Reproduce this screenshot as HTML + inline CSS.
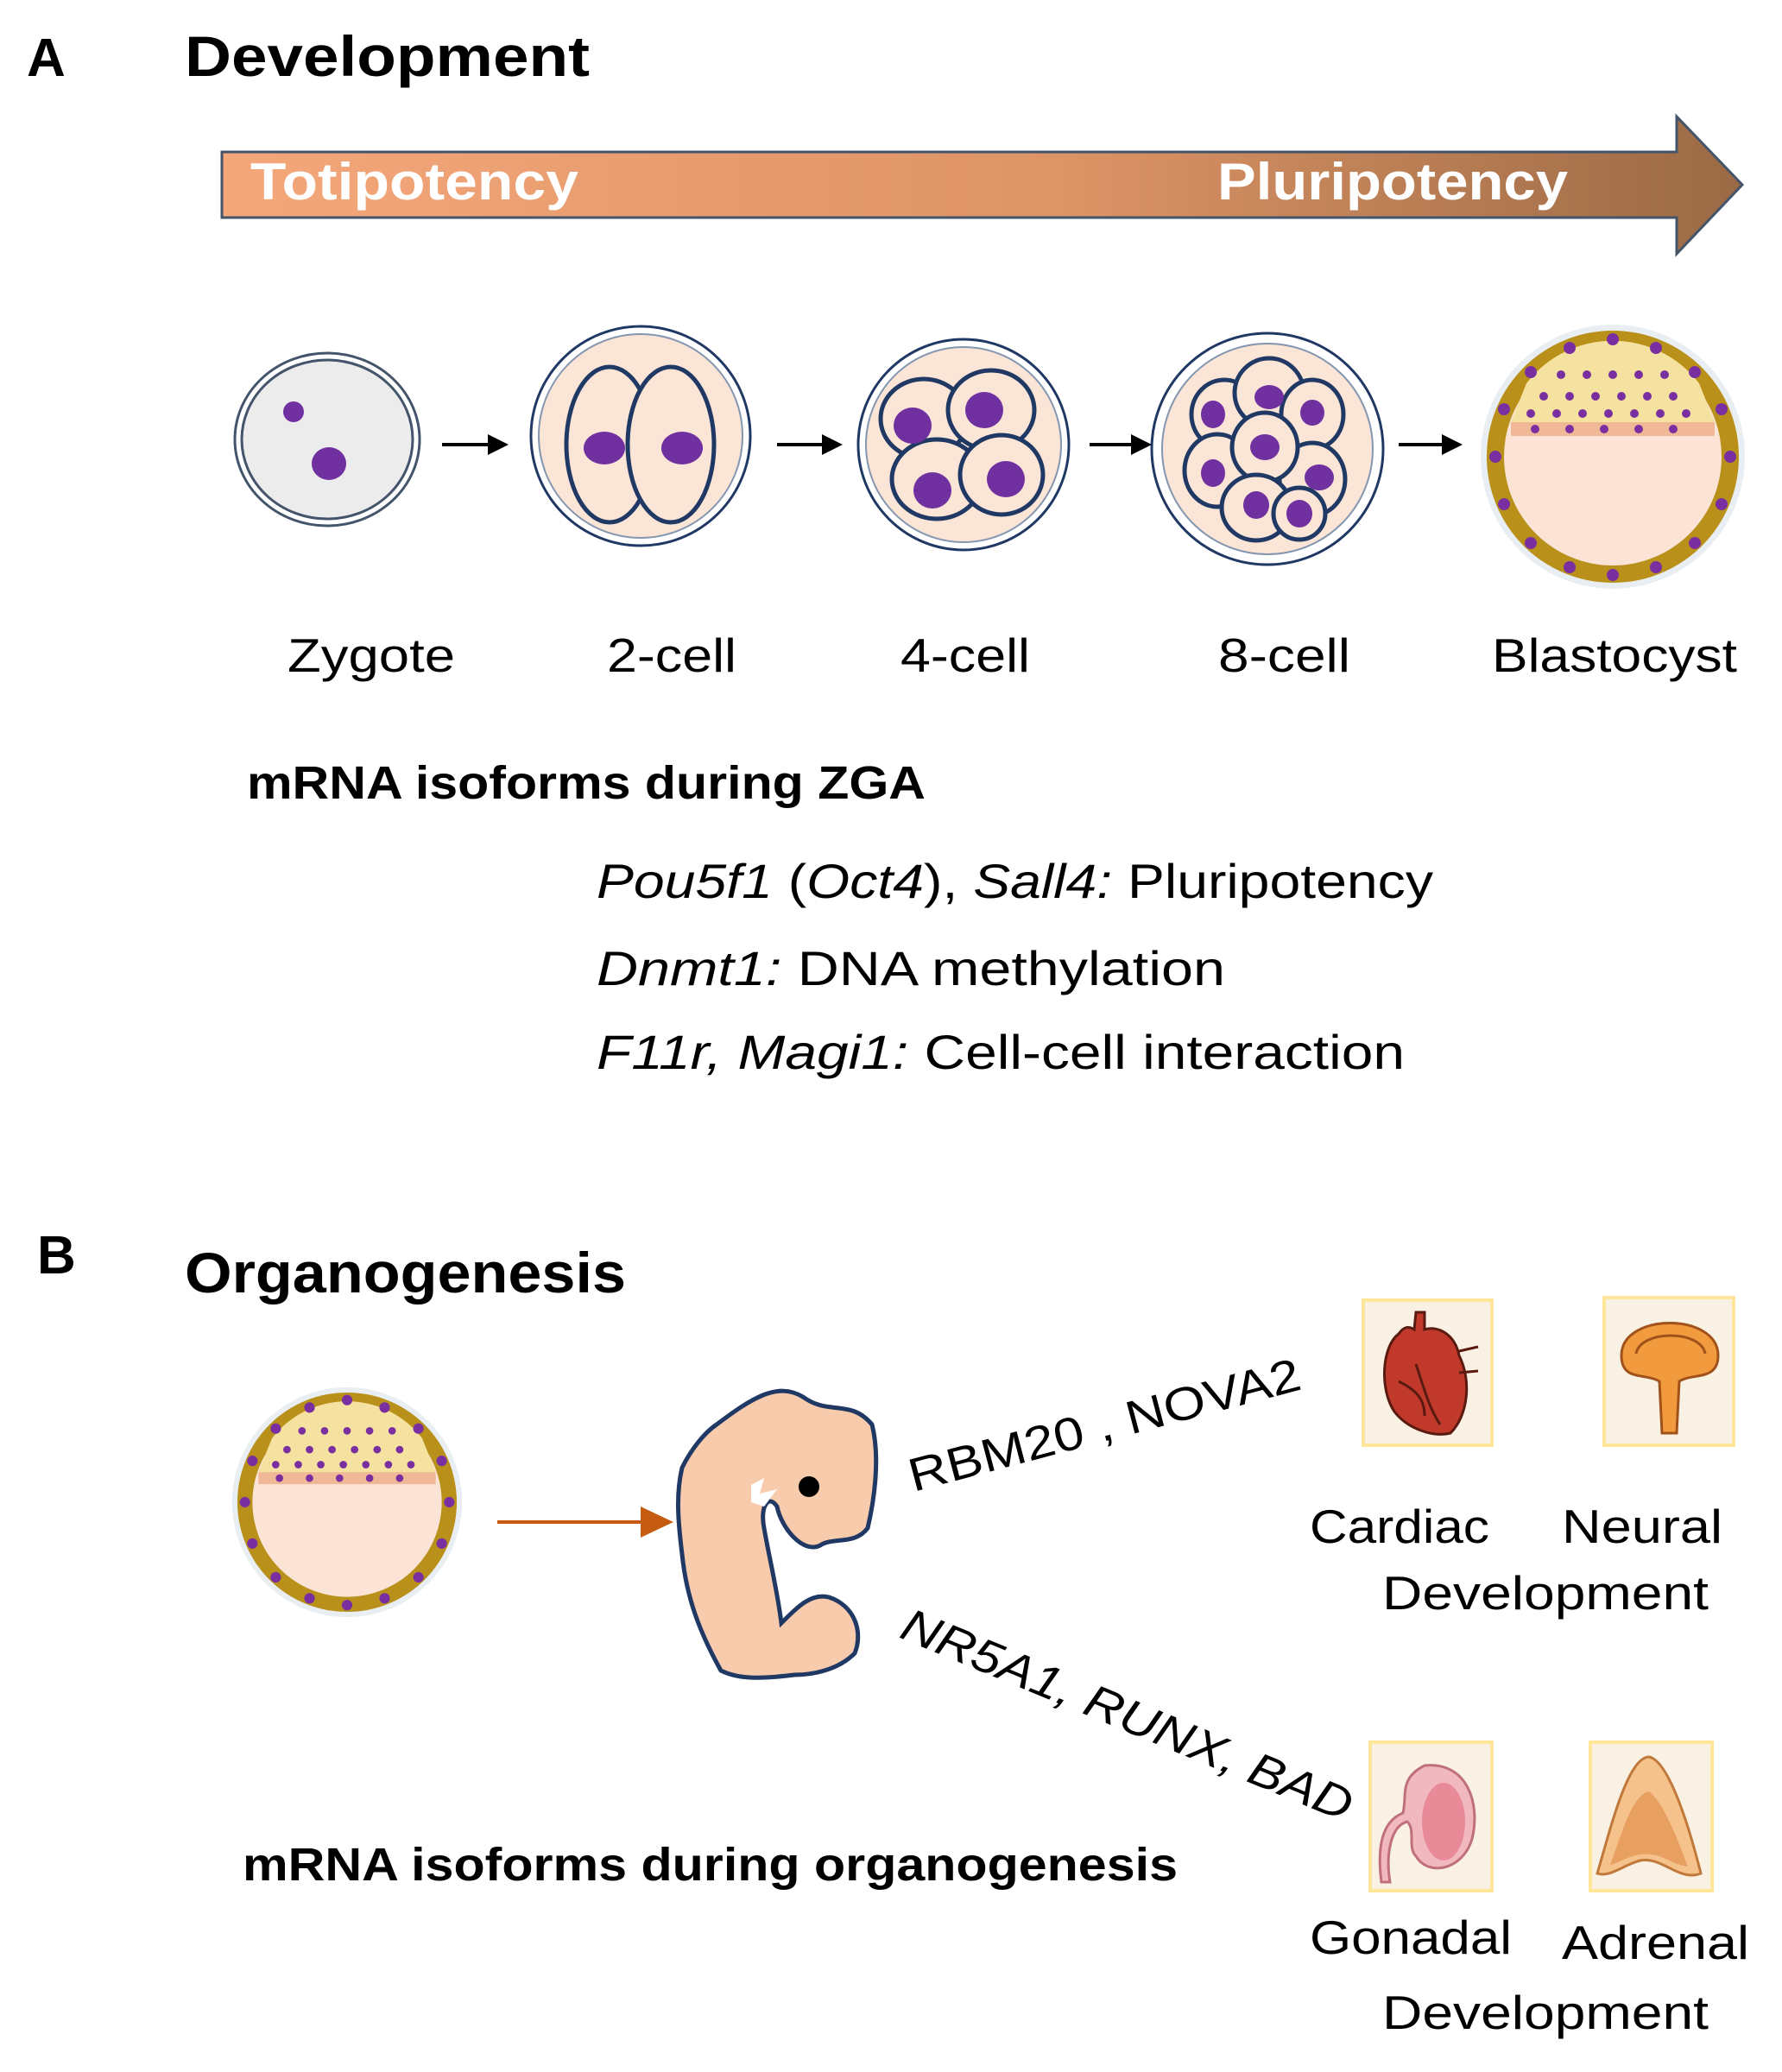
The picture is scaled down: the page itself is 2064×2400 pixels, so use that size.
<!DOCTYPE html>
<html><head><meta charset="utf-8"><style>html,body{margin:0;padding:0;background:#fff}svg{display:block}</style></head>
<body>
<svg width="2064" height="2400" viewBox="0 0 2064 2400" xmlns="http://www.w3.org/2000/svg" font-family="Liberation Sans, sans-serif">
<defs>
<linearGradient id="ag" x1="0" x2="1" y1="0" y2="0">
<stop offset="0" stop-color="#f4a77a"/><stop offset="0.55" stop-color="#dd9466"/><stop offset="1" stop-color="#9a6a45"/>
</linearGradient>
<g id="blast">
<circle r="153" fill="#e9eef2"/>
<circle r="146" fill="#b8901a"/>
<circle r="126" fill="#fbe3d6"/>
<path d="M-118,-40 L118,-40 L 100,-85 A126 126 0 0 0 -100,-85 Z" fill="#f6e2a0"/>
<rect x="-118" y="-40" width="236" height="16" fill="#f0b896"/>
<g fill="#7a2fa0">
<circle cx="-60" cy="-95" r="5"/><circle cx="-30" cy="-95" r="5"/><circle cx="0" cy="-95" r="5"/><circle cx="30" cy="-95" r="5"/><circle cx="60" cy="-95" r="5"/>
<circle cx="-80" cy="-70" r="5"/><circle cx="-50" cy="-70" r="5"/><circle cx="-20" cy="-70" r="5"/><circle cx="10" cy="-70" r="5"/><circle cx="40" cy="-70" r="5"/><circle cx="70" cy="-70" r="5"/>
<circle cx="-95" cy="-50" r="5"/><circle cx="-65" cy="-50" r="5"/><circle cx="-35" cy="-50" r="5"/><circle cx="-5" cy="-50" r="5"/><circle cx="25" cy="-50" r="5"/><circle cx="55" cy="-50" r="5"/><circle cx="85" cy="-50" r="5"/>
<circle cx="-90" cy="-32" r="5"/><circle cx="-50" cy="-32" r="5"/><circle cx="-10" cy="-32" r="5"/><circle cx="30" cy="-32" r="5"/><circle cx="70" cy="-32" r="5"/>
<circle cx="0" cy="-136" r="7"/><circle cx="-50" cy="-126" r="7"/><circle cx="50" cy="-126" r="7"/><circle cx="-95" cy="-98" r="7"/><circle cx="95" cy="-98" r="7"/>
<circle cx="-126" cy="-55" r="7"/><circle cx="126" cy="-55" r="7"/><circle cx="-136" cy="0" r="7"/><circle cx="136" cy="0" r="7"/>
<circle cx="-126" cy="55" r="7"/><circle cx="126" cy="55" r="7"/><circle cx="-95" cy="100" r="7"/><circle cx="95" cy="100" r="7"/>
<circle cx="-50" cy="128" r="7"/><circle cx="50" cy="128" r="7"/><circle cx="0" cy="137" r="7"/>
</g>
</g>
<marker id="bk" markerWidth="6" markerHeight="6" refX="5" refY="3" orient="auto"><path d="M0,0 L6,3 L0,6 Z" fill="#000"/></marker>
</defs>

<text x="31" y="88" font-size="62" font-weight="bold">A</text>
<text x="214" y="88" font-size="66" font-weight="bold" textLength="469" lengthAdjust="spacingAndGlyphs">Development</text>

<path d="M257,176 L1942,176 L1942,135 L2018,214 L1942,294 L1942,252 L257,252 Z" fill="url(#ag)" stroke="#44546a" stroke-width="3"/>
<text x="290" y="231" font-size="60" font-weight="bold" fill="#fff" textLength="380" lengthAdjust="spacingAndGlyphs">Totipotency</text>
<text x="1410" y="231" font-size="60" font-weight="bold" fill="#fff" textLength="406" lengthAdjust="spacingAndGlyphs">Pluripotency</text>

<!-- zygote -->
<ellipse cx="379" cy="509" rx="107" ry="100" fill="#fff" stroke="#44546a" stroke-width="3"/>
<ellipse cx="379" cy="509" rx="99" ry="92" fill="#ececec" stroke="#44546a" stroke-width="3"/>
<ellipse cx="340" cy="477" rx="12" ry="12" fill="#7030a0"/>
<ellipse cx="381" cy="537" rx="20" ry="19" fill="#7030a0"/>
<!-- 2-cell -->
<ellipse cx="742" cy="505" rx="127" ry="127" fill="#fff" stroke="#203864" stroke-width="3"/>
<ellipse cx="742" cy="505" rx="118" ry="118" fill="#fbe5d6" stroke="#8496b0" stroke-width="2"/>
<ellipse cx="706" cy="515" rx="50" ry="90" fill="#fbe5d6" stroke="#203864" stroke-width="5"/>
<ellipse cx="777" cy="515" rx="50" ry="90" fill="#fbe5d6" stroke="#203864" stroke-width="5"/>
<ellipse cx="700" cy="519" rx="24" ry="19" fill="#7030a0"/>
<ellipse cx="790" cy="519" rx="24" ry="19" fill="#7030a0"/>
<!-- 4-cell -->
<circle cx="1116" cy="515" r="122" fill="#fff" stroke="#203864" stroke-width="3"/>
<circle cx="1116" cy="515" r="113" fill="#fbe5d6" stroke="#8496b0" stroke-width="2"/>
<g stroke="#203864" stroke-width="5" fill="#fbe5d6">
<ellipse cx="1070" cy="485" rx="50" ry="46"/><ellipse cx="1148" cy="475" rx="50" ry="46"/>
<ellipse cx="1085" cy="555" rx="52" ry="46"/><ellipse cx="1160" cy="550" rx="48" ry="46"/>
</g>
<g fill="#7030a0"><ellipse cx="1057" cy="493" rx="22" ry="21"/><ellipse cx="1140" cy="475" rx="22" ry="21"/><ellipse cx="1080" cy="568" rx="22" ry="21"/><ellipse cx="1165" cy="555" rx="22" ry="21"/></g>
<!-- 8-cell -->
<circle cx="1468" cy="520" r="134" fill="#fff" stroke="#203864" stroke-width="3"/>
<circle cx="1468" cy="520" r="122" fill="#fbe5d6" stroke="#8496b0" stroke-width="2"/>
<g stroke="#203864" stroke-width="5" fill="#fbe5d6">
<ellipse cx="1418" cy="480" rx="38" ry="40"/><ellipse cx="1470" cy="455" rx="40" ry="40"/><ellipse cx="1520" cy="480" rx="36" ry="40"/>
<ellipse cx="1410" cy="545" rx="38" ry="42"/><ellipse cx="1520" cy="555" rx="38" ry="42"/>
<ellipse cx="1465" cy="518" rx="38" ry="40"/><ellipse cx="1455" cy="588" rx="40" ry="38"/><ellipse cx="1505" cy="595" rx="30" ry="30"/>
</g>
<g fill="#7030a0"><ellipse cx="1405" cy="480" rx="14" ry="16"/><ellipse cx="1470" cy="460" rx="17" ry="14"/><ellipse cx="1520" cy="478" rx="14" ry="15"/><ellipse cx="1465" cy="518" rx="17" ry="15"/><ellipse cx="1405" cy="548" rx="14" ry="16"/><ellipse cx="1528" cy="553" rx="17" ry="15"/><ellipse cx="1455" cy="585" rx="15" ry="16"/><ellipse cx="1505" cy="595" rx="15" ry="16"/></g>
<!-- blastocyst -->
<use href="#blast" transform="translate(1868,529)"/>

<g stroke="#000" stroke-width="4" marker-end="url(#bk)">
<line x1="512" y1="515" x2="585" y2="515"/><line x1="900" y1="515" x2="972" y2="515"/>
<line x1="1262" y1="515" x2="1330" y2="515"/><line x1="1620" y1="515" x2="1690" y2="515"/>
</g>

<g font-size="55" text-anchor="start">
<text x="333" y="778" textLength="194" lengthAdjust="spacingAndGlyphs">Zygote</text>
<text x="703" y="778" textLength="150" lengthAdjust="spacingAndGlyphs">2-cell</text>
<text x="1043" y="778" textLength="150" lengthAdjust="spacingAndGlyphs">4-cell</text>
<text x="1411" y="778" textLength="153" lengthAdjust="spacingAndGlyphs">8-cell</text>
<text x="1728" y="778" textLength="284" lengthAdjust="spacingAndGlyphs">Blastocyst</text>
</g>

<text x="286" y="925" font-size="54" font-weight="bold" textLength="786" lengthAdjust="spacingAndGlyphs">mRNA isoforms during ZGA</text>
<g font-size="56">
<text x="691" y="1040" textLength="969" lengthAdjust="spacingAndGlyphs"><tspan font-style="italic">Pou5f1</tspan> (<tspan font-style="italic">Oct4</tspan>), <tspan font-style="italic">Sall4:</tspan>  Pluripotency</text>
<text x="691" y="1141" textLength="728" lengthAdjust="spacingAndGlyphs"><tspan font-style="italic">Dnmt1:</tspan>  DNA methylation</text>
<text x="691" y="1238" textLength="936" lengthAdjust="spacingAndGlyphs"><tspan font-style="italic">F11r, Magi1:</tspan>  Cell-cell interaction</text>
</g>

<text x="43" y="1475" font-size="62" font-weight="bold">B</text>
<text x="214" y="1497" font-size="66" font-weight="bold" textLength="511" lengthAdjust="spacingAndGlyphs">Organogenesis</text>

<use href="#blast" transform="translate(402,1740) scale(0.87)"/>
<line x1="576" y1="1763" x2="752" y2="1763" stroke="#c55a11" stroke-width="4"/>
<path d="M742,1745 L780,1763 L742,1781 Z" fill="#c55a11"/>

<!-- embryo -->
<path d="M830,1650 C870,1620 900,1600 930,1618 C960,1640 985,1620 1010,1650 C1020,1690 1012,1740 1005,1770 C990,1790 965,1780 950,1790 C930,1800 905,1770 900,1745 C890,1730 880,1745 885,1770 C890,1800 900,1840 905,1880 C925,1860 940,1845 960,1850 C990,1860 1000,1890 990,1915 C970,1935 940,1940 920,1940 C880,1945 855,1945 835,1935 C810,1890 795,1850 790,1800 C785,1760 783,1730 790,1700 C800,1680 815,1660 830,1650 Z" fill="#f8cbad" stroke="#203864" stroke-width="5"/>
<path d="M870,1720 L885,1712 L880,1730 L900,1725 L885,1745 L870,1740 Z" fill="#fff"/>
<circle cx="937" cy="1722" r="12" fill="#000"/>

<text transform="translate(1058,1728) rotate(-14.8)" font-size="54" textLength="467" lengthAdjust="spacingAndGlyphs">RBM20 , NOVA2</text>
<text transform="translate(1040,1896) rotate(22.5)" font-size="54" font-style="italic" textLength="560" lengthAdjust="spacingAndGlyphs">NR5A1, RUNX, BAD</text>

<!-- organ boxes -->
<g fill="#f9f1e3" stroke="#ffe699" stroke-width="4">
<rect x="1579" y="1506" width="149" height="168"/><rect x="1858" y="1503" width="150" height="171"/>
<rect x="1587" y="2018" width="141" height="172"/><rect x="1842" y="2018" width="141" height="172"/>
</g>
<!-- heart -->
<path d="M1620,1545 C1600,1560 1598,1610 1615,1635 C1630,1655 1660,1665 1680,1660 C1700,1640 1705,1600 1690,1570 C1685,1545 1665,1535 1650,1540 L1650,1520 L1640,1520 L1638,1540 C1630,1535 1625,1538 1620,1545 Z" fill="#c0392b" stroke="#5a1a10" stroke-width="3"/>
<path d="M1690,1565 L1712,1560 M1690,1590 L1712,1588 M1640,1580 C1650,1610 1655,1630 1668,1650 M1620,1600 C1640,1610 1650,1620 1650,1640" stroke="#5a1a10" stroke-width="3" fill="none"/>
<!-- neural -->
<path d="M1878,1570 C1878,1520 1990,1520 1990,1570 C1990,1600 1960,1590 1945,1600 L1942,1660 L1925,1660 L1922,1600 C1905,1590 1878,1600 1878,1570 Z" fill="#f19a3e" stroke="#a0521a" stroke-width="3"/>
<path d="M1895,1568 C1900,1540 1970,1540 1975,1568" stroke="#a0521a" stroke-width="3" fill="none"/>
<!-- gonad -->
<path d="M1650,2045 C1700,2040 1715,2090 1705,2130 C1695,2165 1655,2175 1640,2150 C1630,2140 1640,2120 1630,2110 C1610,2115 1605,2150 1610,2180 L1600,2180 C1595,2140 1600,2110 1625,2100 C1630,2080 1620,2060 1650,2045 Z" fill="#f2b8c0" stroke="#c0707a" stroke-width="3"/>
<ellipse cx="1672" cy="2110" rx="25" ry="45" fill="#e88a98"/>
<!-- adrenal -->
<path d="M1910,2035 C1935,2040 1960,2130 1970,2170 C1945,2180 1925,2150 1900,2155 C1880,2160 1865,2175 1850,2170 C1865,2120 1885,2035 1910,2035 Z" fill="#f6c28b" stroke="#c0793a" stroke-width="3"/>
<path d="M1910,2075 C1930,2090 1950,2150 1955,2162 C1935,2160 1925,2145 1900,2148 C1885,2150 1870,2160 1865,2160 C1880,2120 1890,2080 1910,2075 Z" fill="#e8a060"/>

<g font-size="55">
<text x="1517" y="1787" textLength="208" lengthAdjust="spacingAndGlyphs">Cardiac</text>
<text x="1809" y="1787" textLength="186" lengthAdjust="spacingAndGlyphs">Neural</text>
<text x="1601" y="1864" textLength="378" lengthAdjust="spacingAndGlyphs">Development</text>
<text x="1517" y="2263" textLength="234" lengthAdjust="spacingAndGlyphs">Gonadal</text>
<text x="1809" y="2269" textLength="217" lengthAdjust="spacingAndGlyphs">Adrenal</text>
<text x="1601" y="2350" textLength="378" lengthAdjust="spacingAndGlyphs">Development</text>
</g>
<text x="281" y="2178" font-size="54" font-weight="bold" textLength="1083" lengthAdjust="spacingAndGlyphs">mRNA isoforms during organogenesis</text>
</svg>
</body></html>
